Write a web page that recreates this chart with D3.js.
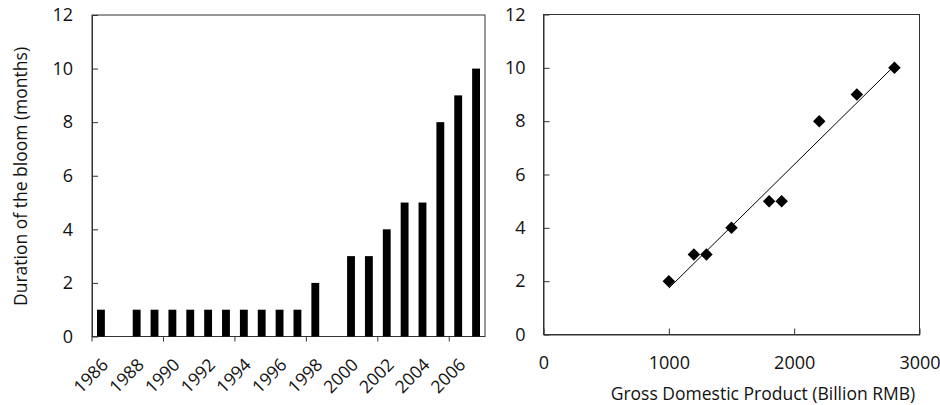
<!DOCTYPE html>
<html>
<head>
<meta charset="utf-8">
<script src="https://cdn.jsdelivr.net/npm/d3@7"></script>
<style>
  body { margin: 0; background: #fff; }
  text { font-family: "Open Sans", sans-serif; fill: #111; }
</style>
</head>
<body>
<div id="visual"></div>
<script>
// left panel: bloom duration per year
const years = [1986, 1987, 1988, 1989, 1990, 1991, 1992, 1993, 1994, 1995, 1996,
               1997, 1998, 1999, 2000, 2001, 2002, 2003, 2004, 2005, 2006, 2007];
const bloomMonths = [1, 0, 1, 1, 1, 1, 1, 1, 1, 1, 1, 1, 2, 0, 3, 3, 4, 5, 5, 8, 9, 10];
const yearLabels = [1986, 1988, 1990, 1992, 1994, 1996, 1998, 2000, 2002, 2004, 2006];
const yearTicks = [1986, 1990, 1994, 1998, 2002, 2006];
const monthTicks = [0, 2, 4, 6, 8, 10, 12];

// right panel: duration vs GDP
const gdp = [1000, 1200, 1300, 1500, 1800, 1900, 2200, 2500, 2800];
const gdpMonths = [2, 3, 3, 4, 5, 5, 8, 9, 10];
const gdpTicks = [0, 1000, 2000, 3000];

const axisColor = "#333";
const fontSize = 18;

const svg = d3.select("#visual")
  .append("svg")
    .attr("width", 940)
    .attr("height", 405);

// ---------- left chart ----------
const x1 = d3.scaleBand()
  .domain(years)
  .range([92, 485])
  .paddingInner(0.56)
  .paddingOuter(0.28);

const y1 = d3.scaleLinear()
  .domain([0, 12])
  .range([336.5, 15]);

const left = svg.append("g");

left.append("rect")
  .attr("x", 92).attr("y", y1(12))
  .attr("width", 485 - 92).attr("height", y1(0) - y1(12))
  .attr("fill", "none")
  .attr("stroke", axisColor);

left.selectAll("rect.bar")
  .data(years.map((d, i) => ({year: d, value: bloomMonths[i]})).filter(d => d.value > 0))
  .enter()
  .append("rect")
    .attr("class", "bar")
    .attr("x", d => x1(d.year))
    .attr("y", d => y1(d.value))
    .attr("width", x1.bandwidth())
    .attr("height", d => y1(0) - y1(d.value))
    .attr("fill", "#000");

const yAxis1 = left.append("g")
  .attr("transform", "translate(92,0)")
  .call(d3.axisLeft(y1).tickValues(monthTicks).tickSize(-6).tickSizeOuter(0).tickPadding(19));
yAxis1.select(".domain").attr("stroke", axisColor);
yAxis1.selectAll("line").attr("stroke", axisColor);
yAxis1.selectAll("text").attr("font-size", fontSize).attr("font-family", "Open Sans").attr("fill", "#111");

// category boundary ticks below the axis
const gap = x1.step() - x1.bandwidth();
left.selectAll("line.xtick")
  .data(yearTicks)
  .enter()
  .append("line")
    .attr("class", "xtick")
    .attr("x1", d => x1(d) - gap / 2)
    .attr("x2", d => x1(d) - gap / 2)
    .attr("y1", y1(0))
    .attr("y2", y1(0) + 5)
    .attr("stroke", axisColor);

left.selectAll("text.xlab")
  .data(yearLabels)
  .enter()
  .append("text")
    .attr("class", "xlab")
    .attr("transform", d => "translate(" + (x1(d) + x1.bandwidth() / 2 + 4) + "," + (y1(0) + 25) + ") rotate(-45)")
    .attr("text-anchor", "end")
    .attr("dy", "0.35em")
    .attr("font-size", fontSize - 0.5)
    .text(d => d);

left.append("text")
  .attr("transform", "translate(27,176.5) rotate(-90)")
  .attr("text-anchor", "middle")
  .attr("font-size", 17.5)
  .text("Duration of the bloom (months)");

// ---------- right chart ----------
const x2 = d3.scaleLinear()
  .domain([0, 3000])
  .range([543.5, 919.5]);

const y2 = d3.scaleLinear()
  .domain([0, 12])
  .range([334.5, 14.5]);

const right = svg.append("g");

right.append("rect")
  .attr("x", x2(0)).attr("y", y2(12))
  .attr("width", x2(3000) - x2(0)).attr("height", y2(0) - y2(12))
  .attr("fill", "none")
  .attr("stroke", axisColor);

const yAxis2 = right.append("g")
  .attr("transform", "translate(" + x2(0) + ",0)")
  .call(d3.axisLeft(y2).tickValues(monthTicks).tickSize(-6).tickSizeOuter(0).tickPadding(18));

const xAxis2 = right.append("g")
  .attr("transform", "translate(0," + y2(0) + ")")
  .call(d3.axisBottom(x2).tickValues(gdpTicks).tickFormat(d3.format("d"))
    .tickSize(-6).tickSizeOuter(0).tickPadding(22));

[yAxis2, xAxis2].forEach(a => {
  a.select(".domain").attr("stroke", axisColor);
  a.selectAll("line").attr("stroke", axisColor);
  a.selectAll("text").attr("font-size", fontSize).attr("font-family", "Open Sans").attr("fill", "#111");
});

// least squares trend line
const mx = d3.mean(gdp), my = d3.mean(gdpMonths);
const slope = d3.sum(gdp, (d, i) => (d - mx) * (gdpMonths[i] - my)) / d3.sum(gdp, d => (d - mx) * (d - mx));
const intercept = my - slope * mx;
const xr = d3.extent(gdp);

right.append("line")
  .attr("x1", x2(xr[0])).attr("y1", y2(intercept + slope * xr[0]))
  .attr("x2", x2(xr[1])).attr("y2", y2(intercept + slope * xr[1]))
  .attr("stroke", "#000")
  .attr("stroke-width", 1);

right.selectAll("path.pt")
  .data(gdp.map((d, i) => ({x: d, y: gdpMonths[i]})))
  .enter()
  .append("path")
    .attr("class", "pt")
    .attr("d", d3.symbol().type(d3.symbolSquare).size(78))
    .attr("transform", d => "translate(" + x2(d.x) + "," + y2(d.y) + ") rotate(45)")
    .attr("fill", "#000");

right.append("text")
  .attr("x", 763)
  .attr("y", 400)
  .attr("text-anchor", "middle")
  .attr("font-size", 17.5)
  .text("Gross Domestic Product (Billion RMB)");
</script>
</body>
</html>
